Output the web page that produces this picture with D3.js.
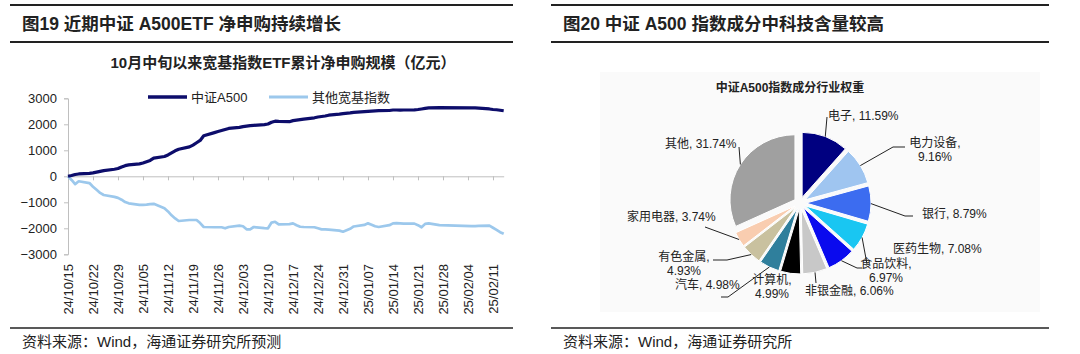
<html>

<head>
    <meta charset="utf-8">
    <title>中证A500</title>
</head>
<style>
    body { margin: 0; background: #fff; }
    svg text { font-family: "Liberation Sans", Arial, "Noto Sans CJK SC", sans-serif; fill: #222; }
</style>

<body>
    <script src="https://cdn.jsdelivr.net/npm/d3@7/dist/d3.min.js"></script>
    <script>
        // ---- 数据 ----
        // 交易日
        var dates = [
            "2024-10-15", "2024-10-16", "2024-10-17", "2024-10-18", "2024-10-21", "2024-10-22", "2024-10-23", "2024-10-24", "2024-10-25",
            "2024-10-28", "2024-10-29", "2024-10-30", "2024-10-31", "2024-11-01", "2024-11-04", "2024-11-05", "2024-11-06", "2024-11-07",
            "2024-11-08", "2024-11-11", "2024-11-12", "2024-11-13", "2024-11-14", "2024-11-15", "2024-11-18", "2024-11-19", "2024-11-20",
            "2024-11-21", "2024-11-22", "2024-11-25", "2024-11-26", "2024-11-27", "2024-11-28", "2024-11-29", "2024-12-02", "2024-12-03",
            "2024-12-04", "2024-12-05", "2024-12-06", "2024-12-09", "2024-12-10", "2024-12-11", "2024-12-12", "2024-12-13", "2024-12-16",
            "2024-12-17", "2024-12-18", "2024-12-19", "2024-12-20", "2024-12-23", "2024-12-24", "2024-12-25", "2024-12-26", "2024-12-27",
            "2024-12-30", "2024-12-31", "2025-01-02", "2025-01-03", "2025-01-06", "2025-01-07", "2025-01-08", "2025-01-09", "2025-01-10",
            "2025-01-13", "2025-01-14", "2025-01-15", "2025-01-16", "2025-01-17", "2025-01-20", "2025-01-21", "2025-01-22", "2025-01-23",
            "2025-01-24", "2025-01-27", "2025-02-05", "2025-02-06", "2025-02-07", "2025-02-10", "2025-02-11", "2025-02-12", "2025-02-13",
            "2025-02-14"
        ];
        // 中证A500 累计净申购（亿元）
        var a500 = [
            0, 30, 70, 90, 110, 130, 160, 190, 220,
            270, 300, 360, 410, 440, 480, 510, 560, 610,
            700, 760, 820, 900, 980, 1040, 1130, 1200, 1290,
            1380, 1560, 1680, 1720, 1760, 1800, 1840, 1880, 1910,
            1930, 1950, 1960, 1990, 2010, 2080, 2120, 2110, 2100,
            2140, 2160, 2180, 2200, 2250, 2280, 2300, 2320, 2350,
            2390, 2410, 2440, 2460, 2490, 2500, 2510, 2520, 2525,
            2530, 2550, 2550, 2545, 2550, 2555, 2570, 2590, 2610,
            2630, 2640, 2635, 2630, 2620, 2590, 2570, 2560, 2540,
            2520
        ];
        // 其他宽基指数 累计净申购（亿元）
        var others = [
            0, -140, -300, -190, -260, -400, -520, -640, -720,
            -790, -830, -900, -990, -1040, -1100, -1100, -1090, -1070,
            -1060, -1230, -1350, -1500, -1620, -1720, -1680, -1680, -1680,
            -1800, -1950, -1960, -1960, -1960, -2000, -1950, -1900, -1920,
            -2040, -2040, -1950, -1990, -2000, -1780, -1750, -1850, -1840,
            -1810, -1880, -1940, -1950, -1960, -2000, -2040, -2040, -2050,
            -2090, -2130, -2020, -1930, -1870, -1810, -1860, -1920, -1950,
            -1880, -1810, -1800, -1810, -1820, -1820, -1880, -1960, -1830,
            -1810, -1880, -1920, -1920, -1910, -1900, -1980, -2060, -2150,
            -2210
        ];
        var seriesNames = ["中证A500", "其他宽基指数"];
        var xTickLabels = ["24/10/15", "24/10/22", "24/10/29", "24/11/05", "24/11/12", "24/11/19", "24/11/26", "24/12/03", "24/12/10",
            "24/12/17", "24/12/24", "24/12/31", "25/01/07", "25/01/14", "25/01/21", "25/01/28", "25/02/04", "25/02/11"];
        var yTicks = [-3000, -2000, -1000, 0, 1000, 2000, 3000];

        // 行业权重（%）
        var industries = ["电子", "电力设备", "银行", "医药生物", "食品饮料", "非银金融", "计算机", "汽车", "有色金属", "家用电器", "其他"];
        var weights = [11.59, 9.16, 8.79, 7.08, 6.97, 6.06, 4.99, 4.98, 4.93, 3.74, 31.74];

        // ---- 样式 ----
        var lineColors = ["#0d0d6b", "#9cc8ec"];
        var pieColors = ["#000080", "#9fc5f0", "#3c6cf0", "#19c6f2", "#0a0aee", "#c8c8c8", "#000000", "#2f7f9c", "#c9c19f", "#f9cdb0", "#a0a0a0"];

        var width = 1080, height = 354;
        var svg = d3.select("body").append("svg")
            .attr("width", width)
            .attr("height", height);

        // 标题与分隔线
        function panelFrame(x0, x1, title, source) {
            svg.append("line").attr("x1", x0).attr("x2", x1).attr("y1", 5).attr("y2", 5)
                .attr("stroke", "#222").attr("stroke-width", 2);
            svg.append("line").attr("x1", x0).attr("x2", x1).attr("y1", 42).attr("y2", 42)
                .attr("stroke", "#222").attr("stroke-width", 2);
            svg.append("line").attr("x1", x0).attr("x2", x1).attr("y1", 328).attr("y2", 328)
                .attr("stroke", "#222").attr("stroke-width", 1.5);
            svg.append("text").attr("x", x0 + 12).attr("y", 24).attr("dy", "0.35em")
                .attr("font-size", 17.5).attr("font-weight", "bold").text(title);
            svg.append("text").attr("x", x0 + 12).attr("y", 342).attr("dy", "0.35em")
                .attr("font-size", 15).text(source);
        }
        panelFrame(10, 513, "图19 近期中证 A500ETF 净申购持续增长", "资料来源：Wind，海通证券研究所预测");
        panelFrame(551, 1049, "图20 中证 A500 指数成分中科技含量较高", "资料来源：Wind，海通证券研究所");

        // ---- 左图：折线 ----
        var parseDate = d3.timeParse("%Y-%m-%d");
        var parseTick = d3.timeParse("%y/%m/%d");
        var days = dates.map(parseDate);

        var x = d3.scaleTime()
            .domain(d3.extent(days))
            .range([68, 503.7]);
        var y = d3.scaleLinear()
            .domain([-3000, 3000])
            .range([254.3, 98.3]);

        svg.append("text").attr("x", 283).attr("y", 63).attr("dy", "0.35em")
            .attr("text-anchor", "middle").attr("font-size", 15).attr("font-weight", "bold")
            .text("10月中旬以来宽基指数ETF累计净申购规模（亿元）");

        var yAxis = svg.append("g")
            .attr("transform", "translate(68,0)")
            .call(d3.axisLeft(y).tickValues(yTicks).tickSize(4).tickPadding(7).tickFormat(d3.format("d")));
        yAxis.select(".domain").attr("stroke", "#bfbfbf");
        yAxis.selectAll(".tick line").attr("stroke", "#bfbfbf");
        yAxis.selectAll("text").attr("font-size", 13).style("font-family", "'Liberation Sans', Arial, sans-serif").attr("fill", "#222");

        var tickDates = xTickLabels.map(parseTick);
        var xAxis = svg.append("g")
            .attr("transform", "translate(0," + y(0) + ")")
            .call(d3.axisBottom(x).tickValues(tickDates).tickSize(4).tickFormat("").tickSizeOuter(0));
        xAxis.select(".domain").attr("stroke", "#bfbfbf");
        xAxis.selectAll(".tick line").attr("stroke", "#bfbfbf");

        svg.selectAll(".xlab")
            .data(xTickLabels)
            .enter()
            .append("text")
            .attr("class", "xlab")
            .attr("transform", function (d) { return "translate(" + x(parseTick(d)) + ",264) rotate(-90)"; })
            .attr("dy", "0.35em")
            .attr("text-anchor", "end")
            .attr("font-size", 13)
            .text(function (d) { return d; });

        var line = d3.line()
            .x(function (d, i) { return x(days[i]); })
            .y(function (d) { return y(d); });

        svg.append("path").datum(others)
            .attr("fill", "none").attr("stroke", lineColors[1]).attr("stroke-width", 2.7)
            .attr("stroke-linejoin", "round")
            .attr("d", line);
        svg.append("path").datum(a500)
            .attr("fill", "none").attr("stroke", lineColors[0]).attr("stroke-width", 3.2)
            .attr("stroke-linejoin", "round")
            .attr("d", line);

        // 图例
        var legendX = [148, 269];
        seriesNames.forEach(function (name, i) {
            svg.append("line").attr("x1", legendX[i]).attr("x2", legendX[i] + 39)
                .attr("y1", 97).attr("y2", 97)
                .attr("stroke", lineColors[i]).attr("stroke-width", i === 0 ? 3.5 : 3);
            svg.append("text").attr("x", legendX[i] + 43).attr("y", 97).attr("dy", "0.35em")
                .attr("font-size", 13).text(name);
        });

        // ---- 右图：饼图 ----
        svg.append("rect").attr("x", 600).attr("y", 72).attr("width", 440).attr("height", 240)
            .attr("fill", "#fafafa");
        svg.append("text").attr("x", 790).attr("y", 88).attr("dy", "0.35em")
            .attr("text-anchor", "middle").attr("font-size", 12).attr("font-weight", "bold")
            .text("中证A500指数成分行业权重");

        var cx = 800, cy = 203, r = 65, explode = 6;
        var pie = d3.pie().sort(null).value(function (d) { return d; });
        var arc = d3.arc().innerRadius(0).outerRadius(r);
        var arcs = pie(weights);

        function bisect(d, rad) {
            var a = (d.startAngle + d.endAngle) / 2;
            return [Math.sin(a) * rad, -Math.cos(a) * rad];
        }

        var g = svg.append("g").attr("transform", "translate(" + cx + "," + cy + ")");
        g.selectAll("path")
            .data(arcs)
            .enter()
            .append("path")
            .attr("transform", function (d) { return "translate(" + bisect(d, explode) + ")"; })
            .attr("d", arc)
            .attr("fill", function (d, i) { return pieColors[i]; })
            .attr("stroke", "#fff")
            .attr("stroke-width", 1);

        // 标签位置（相对饼心），引线拐点
        var labelLayout = [
            { tx: 28, ty: -87, anchor: "start", lines: 1, leader: [[27, -86]] },
            { tx: 135, ty: -60, anchor: "middle", lines: 2, leader: [[93, -56], [105, -56]] },
            { tx: 122, ty: 11, anchor: "start", lines: 1, leader: [[105, 13], [113, 13]] },
            { tx: 93, ty: 46, anchor: "start", lines: 1, leader: [[67, 61]] },
            { tx: 86, ty: 61, anchor: "middle", lines: 2, leader: [[57, 65], [62, 65]] },
            { tx: 5, ty: 88, anchor: "start", lines: 1, leader: [[16, 80]] },
            { tx: -28, ty: 77, anchor: "middle", lines: 2, leader: null },
            { tx: -125, ty: 82, anchor: "start", lines: 1, leader: [[-72, 94], [-79, 94]] },
            { tx: -116, ty: 54, anchor: "middle", lines: 2, leader: [[-73, 57], [-87, 57]] },
            { tx: -173, ty: 14, anchor: "start", lines: 1, leader: [[-95, 24]] },
            { tx: -135, ty: -59, anchor: "start", lines: 1, leader: [[-61, -56]] }
        ];
        var fmt = d3.format(".2f");

        arcs.forEach(function (d, i) {
            var L = labelLayout[i];
            if (L.leader) {
                var pts = [bisect(d, r + explode)].concat(L.leader);
                g.append("path")
                    .attr("d", d3.line()(pts))
                    .attr("fill", "none").attr("stroke", "#222").attr("stroke-width", 1);
            }
            var t = g.append("text").attr("x", L.tx).attr("y", L.ty)
                .attr("text-anchor", L.anchor).attr("font-size", 12);
            var pct = fmt(weights[i]) + "%";
            if (L.lines === 1) {
                t.attr("dy", "0.35em").text(industries[i] + ", " + pct);
            } else {
                t.append("tspan").attr("x", L.tx).attr("dy", "0.35em").text(industries[i] + ",");
                t.append("tspan").attr("x", L.tx).attr("dy", 14).text(pct);
            }
        });
    </script>

</body>

</html>
